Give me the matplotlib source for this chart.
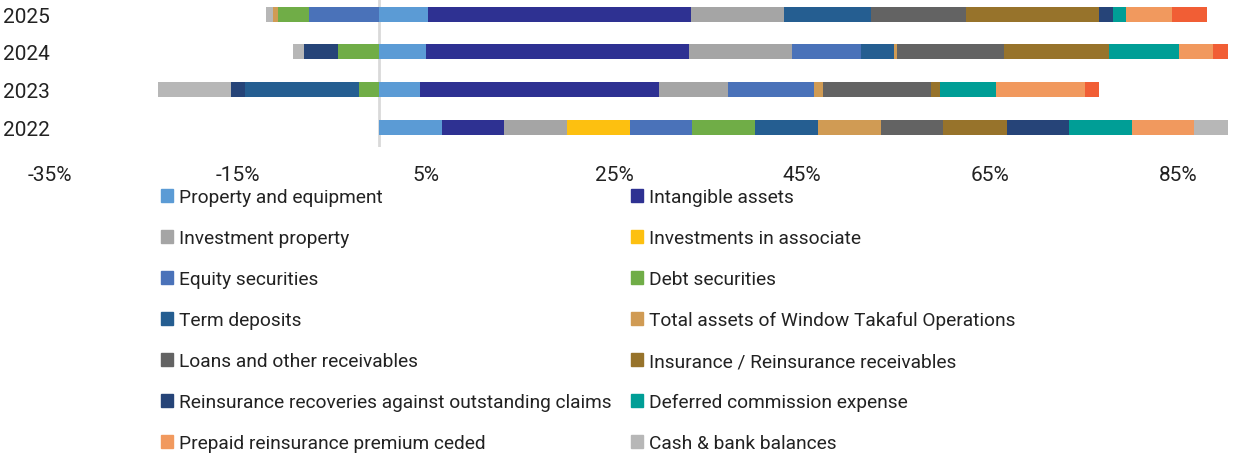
import numpy as np
import matplotlib
matplotlib.use('Agg')
import matplotlib.pyplot as plt
from matplotlib.patches import Patch

plt.rcParams['font.family'] = ['Roboto', 'DejaVu Sans']

# data (share in %)
years = ['2022', '2023', '2024', '2025']
series_names = ['Property and equipment', 'Intangible assets', 'Investment property',
                'Investments in associate', 'Equity securities', 'Debt securities',
                'Term deposits', 'Total assets of Window Takaful Operations',
                'Loans and other receivables', 'Insurance / Reinsurance receivables',
                'Reinsurance recoveries against outstanding claims',
                'Deferred commission expense', 'Prepaid reinsurance premium ceded',
                'Cash & bank balances', 'Other assets']
property_equipment = [6.67, 4.36, 5.00, 5.21]
intangible_assets = [6.63, 25.43, 27.98, 27.98]
investment_property = [6.73, 7.34, 10.93, 9.89]
investments_associate = [6.67, 0, 0, 0]
equity_securities = [6.63, 9.12, 7.34, -7.48]
debt_securities = [6.70, -2.10, -4.33, -3.30]
term_deposits = [6.67, -12.13, 3.57, 9.29]
window_takaful = [6.67, 0.96, 0.29, -0.53]
loans_receivables = [6.66, 11.55, 11.41, 10.07]
insurance_receivables = [6.74, 0.93, 11.17, 14.12]
reinsurance_recoveries = [6.63, -1.55, -3.68, 1.55]
deferred_commission = [6.70, 5.96, 7.38, 1.35]
prepaid_premium = [6.63, 9.47, 3.62, 4.89]
cash_bank = [6.67, -7.73, -1.10, -0.71]
other_assets = [6.67, 1.49, 1.60, 3.72]

colors = ['#5B9BD5', '#2E3192', '#A5A5A5', '#FDC010', '#4A72B9', '#70AD47',
          '#255E91', '#D09B54', '#636363', '#97732B', '#264478', '#009E96',
          '#F1995E', '#B7B7B7', '#F15E35']

values = [property_equipment, intangible_assets, investment_property, investments_associate,
          equity_securities, debt_securities, term_deposits, window_takaful,
          loans_receivables, insurance_receivables, reinsurance_recoveries,
          deferred_commission, prepaid_premium, cash_bank, other_assets]

W, H = 1235, 456
fig = plt.figure(figsize=(W / 100, H / 100), dpi=100)
ax = fig.add_axes([50 / W, (H - 148) / H, 1178 / W, 148 / H])

y = np.arange(len(years))
pos_left = np.zeros(len(years))
neg_left = np.zeros(len(years))
for vals, c in zip(values, colors):
    v = np.array(vals, dtype=float)
    left = np.where(v >= 0, pos_left, neg_left)
    ax.barh(y, v, left=left, height=0.4, color=c, zorder=3)
    pos_left += np.where(v >= 0, v, 0)
    neg_left += np.where(v < 0, v, 0)

ax.axvline(0, color='#D9D9D9', lw=2, zorder=1)
ax.set_xlim(-35, 90.32)
ax.set_ylim(-0.52, 3.4)
ax.set_xticks(np.arange(-35, 90, 20))
ax.set_xticklabels([f'{t}%' for t in range(-35, 90, 20)])
ax.set_yticks(y)
ax.set_yticklabels(years)
ax.tick_params(axis='x', length=0, pad=13, labelsize=15, colors='#222222')
ax.tick_params(axis='y', length=0, pad=0, labelsize=15, colors='#222222')
for s in ax.spines.values():
    s.set_visible(False)

# legend, two columns placed separately, row-major order
handles = [Patch(color=c, label=n) for c, n in zip(colors[:14], series_names[:14])]
leg_kw = dict(frameon=False, fontsize=13.8, loc='upper left', borderpad=0, borderaxespad=0,
              handlelength=0.63, handleheight=0.63, handletextpad=0.33,
              labelspacing=1.2, labelcolor='#222222')
leg1 = fig.legend(handles=handles[0::2], bbox_to_anchor=(161 / W, 1 - 189 / H), **leg_kw)
leg2 = fig.legend(handles=handles[1::2], bbox_to_anchor=(631 / W, 1 - 189 / H), **leg_kw)

fig.savefig('out.png', dpi=100)
